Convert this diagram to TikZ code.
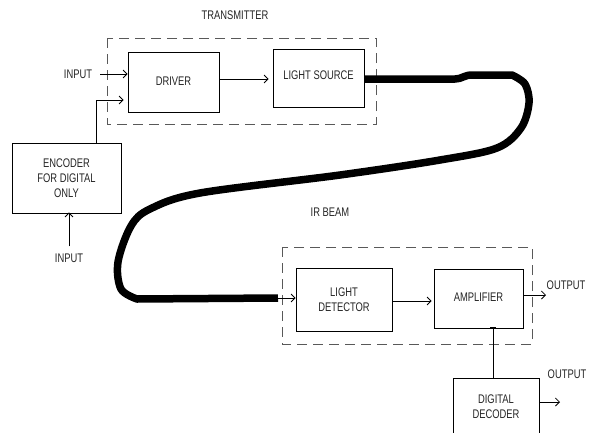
\documentclass[tikz,border=0pt]{standalone}
\usepackage{fontspec}
\setmainfont{Liberation Sans}[FakeStretch=0.75]
\usetikzlibrary{arrows.meta}
\begin{document}
\begin{tikzpicture}[x=1pt,y=-1pt,
  font=\fontsize{12.5}{15}\selectfont,
  box/.style={draw, line width=0.8pt, inner sep=0pt, align=center, text=black!85},
  lbl/.style={inner sep=0pt, align=center, text=black!85},
  grp/.style={draw=black!65, line width=0.9pt, dash pattern=on 10pt off 6pt},
  arr/.style={line width=0.8pt, -{Straight Barb[length=4pt,width=8pt,line width=0.8pt]}},
  wire/.style={line width=0.8pt},
  cable/.style={line width=7.5pt, line join=round}]
\clip (0,0) rectangle (590,432);
\fill[white] (0,0) rectangle (590,432);
% group frames
\draw[grp] (107,38) rectangle (376,124);
\draw[grp] (282,247) rectangle (532,344);
% labels
\node[lbl] (tx) at (235,15) {TRANSMITTER};
\node[lbl] (ir) at (330,212) {IR BEAM};
\node[lbl] (in1) at (78,74) {INPUT};
\node[lbl] (in2) at (69,258) {INPUT};
\node[lbl] (out1) at (566,285) {OUTPUT};
\node[lbl] (out2) at (567,374) {OUTPUT};
% boxes
\node[box, minimum width=91pt, minimum height=60pt] (drv) at (173.5,82) {\raisebox{2pt}{DRIVER}};
\node[box, minimum width=91pt, minimum height=58pt] (ls) at (318.5,78) {\raisebox{6pt}{LIGHT SOURCE}};
\node[box, minimum width=109pt, minimum height=70pt] (enc) at (66.5,178) {ENCODER\\FOR DIGITAL\\ONLY};
\node[box, minimum width=96pt, minimum height=63pt] (ld) at (344,299.5) {LIGHT\\DETECTOR};
\node[box, minimum width=89pt, minimum height=59pt] (amp) at (478.5,298.5) {\raisebox{2pt}{AMPLIFIER}};
\node[box, minimum width=86pt, minimum height=60pt, anchor=north] (dec) at (496,378) {\raisebox{7pt}{\begin{tabular}{@{}c@{}}DIGITAL\\DECODER\end{tabular}}};
% coordinates
\coordinate (e1) at (96,0);
\coordinate (y100) at (0,100);
\coordinate (ce) at (278,298);
\coordinate (o1) at (546,295);
\coordinate (o2) at (560,402);
% connectors
\draw[arr] ([xshift=8pt]in1.east) -- (in1.east -| drv.west);
\draw[arr] (enc.north -| e1) |- ([xshift=-4pt]drv.west |- y100);
\draw[arr] (in2.north) ++(0,-7) -- ([yshift=1pt]in2.north |- enc.south);
\draw[arr] (drv.east |- 0,79) -- ([xshift=-4pt]ls.west |- 0,79);
\draw[cable] (ls.east |- 0,79) -- (455,79) .. controls (462,79) and (464,75) .. (472,75) -- (512,75)
  -- plot[smooth, tension=0.55] coordinates {(512,75) (525,84) (529,103) (521,128) (497,148) (440,160) (340,175) (200,193) (150,209) (131,226) (118,262) (121,289) (137,299)} -- (ce);
\draw[arr] (ce) -- (ce -| ld.west);
\draw[arr] (ld.east |- 0,301) -- ([xshift=-2pt]amp.west |- 0,301);
\draw[arr] (amp.east |- o1) -- (o1);
\draw[wire] ([xshift=-3pt]dec.north |- amp.south) -- ([xshift=-3pt]dec.north);
\draw[wire] ([xshift=-6pt,yshift=1pt]dec.north |- amp.south) -- ([xshift=0pt,yshift=1pt]dec.north |- amp.south);
\draw[arr] (dec.east |- o2) -- (o2);
\end{tikzpicture}
\end{document}
